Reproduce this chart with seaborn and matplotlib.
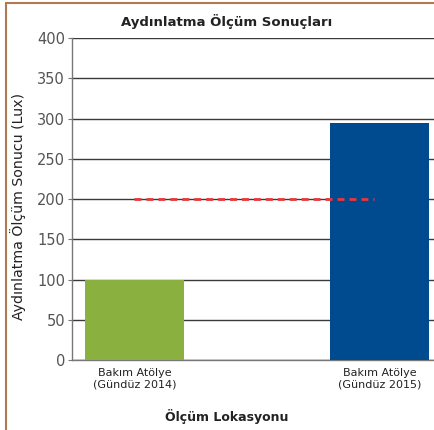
import matplotlib
matplotlib.use("Agg")
import matplotlib.pyplot as plt
import seaborn as sns
import pandas as pd
from matplotlib.lines import Line2D

# Data
locations = ["Bakım Atölye\n(Gündüz 2014)", "Bakım Atölye\n(Gündüz 2015)"]
lux_values = [99, 294]
bar_colors = ["#8AB03F", "#004A8F"]
limit_value = 200
y_ticks = [0, 50, 100, 150, 200, 250, 300, 350, 400]

df = pd.DataFrame({"location": locations, "lux": lux_values})

sns.set_style("white")
plt.rcParams["font.family"] = ["DejaVu Sans"]

fig = plt.figure(figsize=(4.35, 4.30), dpi=100)
ax = fig.add_axes([72 / 435, 1 - 360 / 430, 1 - 72 / 435, (360 - 38) / 430])

sns.barplot(data=df, x="location", y="lux", hue="location", palette=bar_colors,
            width=0.404, legend=False, ax=ax, zorder=3, saturation=1,
            linewidth=0, edgecolor="none")

ax.set_ylim(0, 400)
ax.set_xlim(-0.255, 1.2265)
ax.set_yticks(y_ticks)
ax.yaxis.grid(True, color="#3a3a3a", linewidth=1.0, zorder=1)
ax.set_axisbelow(True)

# reference line at 200 lux
ax.axhline(limit_value, xmin=(0 + 0.255) / 1.4815, xmax=(0.977 + 0.255) / 1.4815,
           color="#E8383D", linestyle=(0, (2.5, 1.8)), linewidth=2.0, zorder=4)

for s in ["top", "right"]:
    ax.spines[s].set_visible(False)
ax.spines["left"].set_color("#777777")
ax.spines["bottom"].set_color("#777777")
ax.spines["left"].set_linewidth(1.0)
ax.spines["bottom"].set_linewidth(1.0)

ax.tick_params(axis="y", labelsize=10.5, labelcolor="#555555", length=3,
               color="#777777", left=True, pad=2)
ax.tick_params(axis="x", labelsize=8, labelcolor="#222222", length=0, pad=6)

ax.set_title("Aydınlatma Ölçüm Sonuçları", fontsize=9.5, fontweight="bold",
             color="#222222", pad=9, x=0.427)
ax.set_xlabel("Ölçüm Lokasyonu", fontsize=9, fontweight="bold", color="#222222",
              labelpad=14, x=0.427)
ax.set_ylabel("Aydınlatma Ölçüm Sonucu (Lux)", fontsize=10.2, color="#222222",
              labelpad=8, y=0.477)

# brown frame
fig.add_artist(Line2D([6 / 435, 6 / 435], [0, 1 - 3 / 430], transform=fig.transFigure,
                      color="#B07A55", linewidth=1.5))
fig.add_artist(Line2D([6 / 435, 1], [1 - 3 / 430, 1 - 3 / 430], transform=fig.transFigure,
                      color="#B07A55", linewidth=1.5))

fig.savefig("out.png", dpi=100)
